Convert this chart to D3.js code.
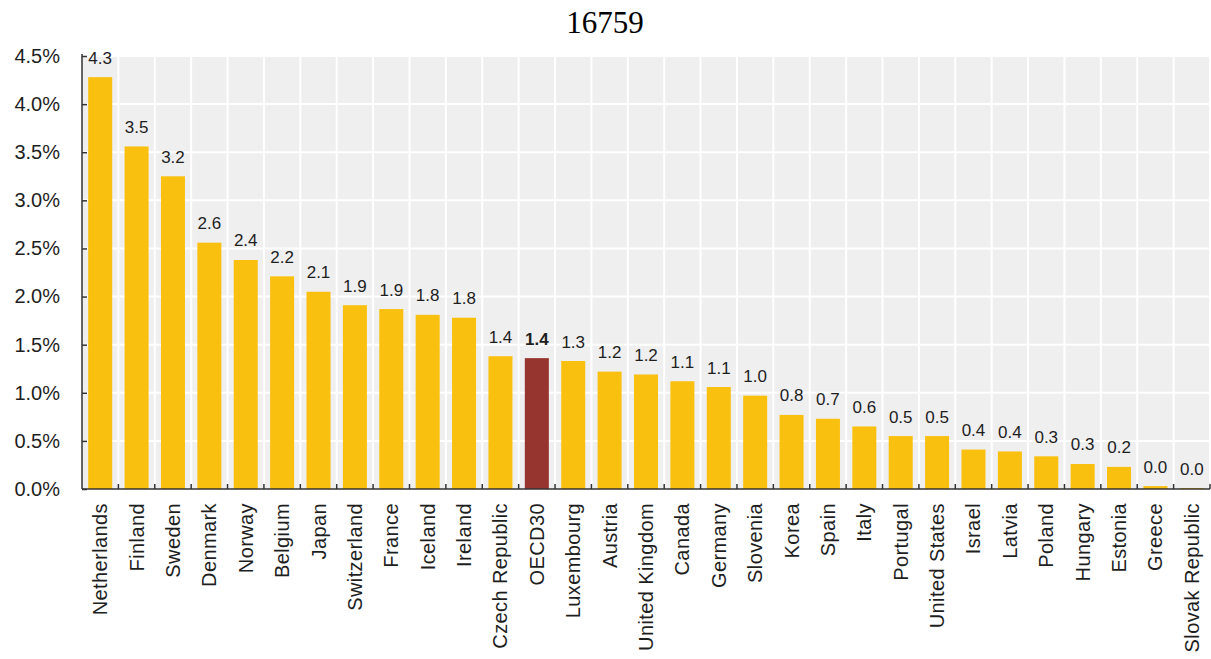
<!DOCTYPE html>
<html><head><meta charset="utf-8">
<script src="https://cdn.jsdelivr.net/npm/d3@7"></script>
<style>body{margin:0;background:#fff;} svg{display:block;}</style>
</head><body>
<svg id="chart" width="1211" height="659"></svg>
<script>
const title = "16759";
const countries = ["Netherlands","Finland","Sweden","Denmark","Norway","Belgium","Japan","Switzerland","France","Iceland","Ireland","Czech Republic","OECD30","Luxembourg","Austria","United Kingdom","Canada","Germany","Slovenia","Korea","Spain","Italy","Portugal","United States","Israel","Latvia","Poland","Hungary","Estonia","Greece","Slovak Republic"];
const values = [4.28,3.56,3.25,2.56,2.38,2.21,2.05,1.91,1.87,1.81,1.78,1.38,1.36,1.33,1.22,1.19,1.12,1.06,0.97,0.77,0.73,0.65,0.55,0.55,0.41,0.39,0.34,0.26,0.23,0.03,0.01];
const valueLabels = ["4.3","3.5","3.2","2.6","2.4","2.2","2.1","1.9","1.9","1.8","1.8","1.4","1.4","1.3","1.2","1.2","1.1","1.1","1.0","0.8","0.7","0.6","0.5","0.5","0.4","0.4","0.3","0.3","0.2","0.0","0.0"];
const highlight = "OECD30";
const yTicks = [0,0.5,1,1.5,2,2.5,3,3.5,4,4.5];
const yTickLabels = ["0.0%","0.5%","1.0%","1.5%","2.0%","2.5%","3.0%","3.5%","4.0%","4.5%"];

const svg = d3.select("#chart");
const FONT = "'Liberation Sans', Arial, sans-serif";
const x = d3.scaleBand().domain(countries).range([82,1210]).paddingInner(0.34).paddingOuter(0.17);
const y = d3.scaleLinear().domain([0,4.5]).range([489,56]);
const [x0,x1] = x.range();
const step = x.step();

// title
svg.append("text").attr("x",605).attr("y",33).attr("text-anchor","middle")
  .attr("font-family","'Liberation Serif','Times New Roman',serif").attr("font-size",31)
  .attr("fill","#000").text(title);

// plot background
svg.append("rect").attr("x",x0).attr("y",y(4.5)).attr("width",x1-x0).attr("height",y(0)-y(4.5)).attr("fill","#efefef");

// horizontal gridlines
svg.append("g").selectAll("line").data(yTicks.filter(d=>d>0)).join("line")
  .attr("x1",x0).attr("x2",x1).attr("y1",d=>y(d)).attr("y2",d=>y(d))
  .attr("stroke","#fff").attr("stroke-width",2);

// vertical gridlines at band boundaries
const bounds = d3.range(1, countries.length+1).map(i=>x0+i*step);
svg.append("g").selectAll("line").data(bounds).join("line")
  .attr("x1",d=>d).attr("x2",d=>d).attr("y1",y(4.5)).attr("y2",y(0))
  .attr("stroke","#fff").attr("stroke-width",2);

// bars
svg.append("g").selectAll("rect").data(countries).join("rect")
  .attr("x",d=>x(d)).attr("width",x.bandwidth())
  .attr("y",(d,i)=>y(values[i])).attr("height",(d,i)=>y(0)-y(values[i]))
  .attr("fill",d=>d===highlight?"#963430":"#fac00f");

// value labels
svg.append("g").selectAll("text").data(countries).join("text")
  .attr("x",d=>x(d)+x.bandwidth()/2).attr("y",(d,i)=>y(values[i])-13.5)
  .attr("text-anchor","middle").attr("font-family",FONT).attr("font-size",17)
  .attr("font-weight",d=>d===highlight?"bold":"normal")
  .attr("fill","#1e1e1e").text((d,i)=>valueLabels[i]);

// left axis
const yAxis = d3.axisLeft(y).tickValues(yTicks).tickFormat((d,i)=>yTickLabels[i])
  .tickSizeInner(-5).tickSizeOuter(0).tickPadding(22);
const gy = svg.append("g").attr("transform",`translate(${x0},0)`).call(yAxis);
gy.select(".domain").attr("stroke","#333").attr("stroke-width",1.5).attr("d",`M0,${y(4.5)-2}V${y(0)}`);
gy.selectAll(".tick line").attr("stroke","#333").attr("stroke-width",1.5);
gy.selectAll(".tick text").attr("font-family",FONT).attr("font-size",20).attr("fill","#1e1e1e");

// bottom axis
const xAxis = d3.axisBottom(x).tickSize(0).tickSizeOuter(0);
const gx = svg.append("g").attr("transform",`translate(0,${y(0)})`).call(xAxis);
gx.select(".domain").attr("stroke","#333").attr("stroke-width",1.5).attr("d",`M${x0},0H${x1}`);
gx.selectAll(".tick text").attr("font-family",FONT).attr("font-size",20).attr("letter-spacing",0.4).attr("fill","#1e1e1e")
  .attr("transform","rotate(-90)").attr("text-anchor","end").attr("x",-14).attr("y",0).attr("dy","0.35em");
gx.append("g").selectAll("line").data(bounds).join("line")
  .attr("x1",d=>d).attr("x2",d=>d).attr("y1",0).attr("y2",-5)
  .attr("stroke","#333").attr("stroke-width",1.5);
</script>
</body></html>
